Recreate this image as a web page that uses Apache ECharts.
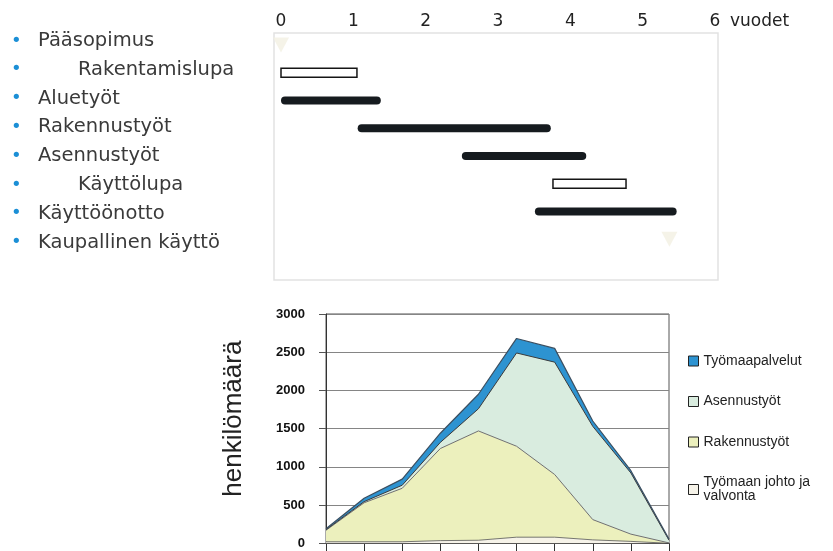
<!DOCTYPE html>
<html>
<head>
<meta charset="utf-8">
<script src="https://cdn.jsdelivr.net/npm/echarts@6/dist/echarts.min.js"></script>
<style>
html,body{margin:0;padding:0;background:#fff;}
#c{width:833px;height:551px;}
</style>
</head>
<body>
<div id="c"></div>
<script>
// ---- Gantt (top) ----
const tasks = ['Pääsopimus','Rakentamislupa','Aluetyöt','Rakennustyöt','Asennustyöt','Käyttölupa','Käyttöönotto','Kaupallinen käyttö'];
const taskIndent = [false,true,false,false,false,true,false,false];
const taskType = ['milestone','permit','work','work','work','permit','work','milestone'];
const taskStart = [0, 0, 0, 1.06, 2.5, 3.76, 3.51, 5.37];
const taskEnd   = [0, 1.05, 1.38, 3.73, 4.22, 4.77, 5.47, 5.37];
const yearTicks = [0,1,2,3,4,5,6];
const yearUnit = 'vuodet';

// ---- Stacked area (bottom) ----
const periods = ['1','2','3','4','5','6','7','8','9','10'];
const johto       = [20, 20, 20, 35, 40, 80, 80, 45, 25, 0];
const rakennus    = [150, 510, 700, 1205, 1430, 1190, 820, 265, 95, 5];
const asennus     = [8, 15, 40, 80, 290, 1220, 1470, 1220, 800, 35];
const tyomaa      = [12, 45, 80, 120, 190, 190, 180, 70, 30, 15];
const yTicks = [0,500,1000,1500,2000,2500,3000];
const yTitle = 'henkilömäärä';
const legendOrder = ['Työmaapalvelut','Asennustyöt','Rakennustyöt','Työmaan johto ja valvonta'];

const workData = [], permitData = [], mileData = [];
tasks.forEach((t,i)=>{
  if (taskType[i]==='work') workData.push([i, taskStart[i], taskEnd[i]]);
  else if (taskType[i]==='permit') permitData.push([i, taskStart[i], taskEnd[i]]);
  else mileData.push([taskStart[i], i]);
});

function barRender(kind){
  return function(params, api){
    const row = api.value(0);
    const p0 = api.coord([api.value(1), row]);
    const p1 = api.coord([api.value(2), row]);
    const h = kind==='permit' ? 9 : 8;
    return {
      type:'rect',
      shape:{x:p0[0], y:p0[1]-h/2, width:p1[0]-p0[0], height:h, r: kind==='permit'?0:4},
      style: kind==='permit' ? {fill:'#ffffff', stroke:'#151515', lineWidth:1.5} : {fill:'#161b1f'}
    };
  };
}

const chart = echarts.init(document.getElementById('c'), null, {renderer:'canvas'});
const verd = 'DejaVu Sans';
const arial = 'Liberation Sans';

chart.setOption({
  animation:false,
  backgroundColor:'#fff',
  grid:[
    {left:281, right:118, top:31, height:222, outerBoundsMode:'none'},
    {left:273, width:10, top:26.5, height:230.4, outerBoundsMode:'none'},
    {left:274, right:115, top:33, bottom:271, show:true, borderColor:'#e2e2e2', borderWidth:1.5, backgroundColor:'transparent', outerBoundsMode:'none'},
    {left:326, right:164, top:314, height:229.3, show:true, borderColor:'#555', borderWidth:1, outerBoundsMode:'none'}
  ],
  legend:{
    data:legendOrder,
    orient:'vertical',
    left:683, top:349,
    itemWidth:10, itemHeight:10, itemGap:26.5,
    icon:'rect',
    itemStyle:{borderColor:'#222', borderWidth:1},
    textStyle:{fontFamily:arial, fontSize:14, lineHeight:14, color:'#222', padding:[0,0,0,0]},
    formatter:function(n){ return n==='Työmaan johto ja valvonta' ? 'Työmaan johto ja\nvalvonta' : n; },
    selectedMode:false
  },
  xAxis:[
    {gridIndex:0, type:'value', min:0, max:6, interval:1, position:'top',
     axisLine:{show:false}, axisTick:{show:false}, splitLine:{show:false},
     axisLabel:{fontFamily:verd, fontSize:17, color:'#222', margin:1,
       formatter:function(v){ return yearTicks.indexOf(v)>=0 ? String(v) : ''; }},
     name:yearUnit, nameLocation:'end', nameGap:15,
     nameTextStyle:{fontFamily:verd, fontSize:17, color:'#222', align:'left', verticalAlign:'bottom', padding:[0,0,1,0]}},
    {gridIndex:1, type:'value', show:false, min:0, max:1},
    {gridIndex:2, type:'value', show:false, min:0, max:1},
    {gridIndex:3, type:'category', data:periods, boundaryGap:false,
     axisLine:{show:true, lineStyle:{color:'#333', width:1}},
     axisTick:{show:true, length:8, lineStyle:{color:'#333'}},
     axisLabel:{show:false}, splitLine:{show:false}}
  ],
  yAxis:[
    {gridIndex:0, type:'category', data:tasks, inverse:true, show:false},
    {gridIndex:1, type:'category', data:tasks, inverse:true,
     axisLine:{show:false}, axisTick:{show:false}, splitLine:{show:false},
     axisLabel:{align:'left', margin:262, interval:0,
       formatter:function(v, i){ return taskIndent[i] ? '{b|•}{ti|'+v+'}' : '{b|•}{t|'+v+'}'; },
       rich:{
         b:{fontFamily:verd, fontSize:18, color:'#1b8fd6', width:27},
         t:{fontFamily:verd, fontSize:19.5, color:'#3a3a3a'},
         ti:{fontFamily:verd, fontSize:19.5, color:'#3a3a3a', padding:[0,0,0,40]}
       }}},
    {gridIndex:2, type:'value', show:false, min:0, max:1},
    {gridIndex:3, type:'value', min:yTicks[0], max:yTicks[yTicks.length-1], interval:500,
     axisLine:{show:true, lineStyle:{color:'#333'}},
     axisTick:{show:true, length:7, lineStyle:{color:'#555'}},
     splitLine:{show:true, lineStyle:{color:'#858585', width:1}},
     axisLabel:{fontFamily:arial, fontSize:13, fontWeight:'bold', color:'#111', margin:21,
       formatter:function(v){ return String(v); }},
     name:yTitle, nameLocation:'middle', nameGap:79,
     nameTextStyle:{fontFamily:arial, fontSize:26, color:'#222', padding:[0,0,0,20]}}
  ],
  series:[
    {type:'custom', name:'work', xAxisIndex:0, yAxisIndex:0, renderItem:barRender('work'),
     encode:{x:[1,2], y:0}, data:workData, clip:false, silent:true},
    {type:'custom', name:'permit', xAxisIndex:0, yAxisIndex:0, renderItem:barRender('permit'),
     encode:{x:[1,2], y:0}, data:permitData, clip:false, silent:true},
    {type:'scatter', name:'milestone', xAxisIndex:0, yAxisIndex:0, data:mileData,
     symbol:'triangle', symbolRotate:180, symbolSize:[16,15], clip:false, silent:true,
     itemStyle:{color:'#f3f0e2'}},
    {type:'line', name:'Työmaan johto ja valvonta', xAxisIndex:3, yAxisIndex:3, stack:'total',
     data:johto, symbol:'none', silent:true,
     lineStyle:{color:'#555', width:0.8}, itemStyle:{color:'#f6f3e9'},
     areaStyle:{color:'#f6f3e9', opacity:1}},
    {type:'line', name:'Rakennustyöt', xAxisIndex:3, yAxisIndex:3, stack:'total',
     data:rakennus, symbol:'none', silent:true,
     lineStyle:{color:'#707070', width:1}, itemStyle:{color:'#ecf0bd'},
     areaStyle:{color:'#ecf0bd', opacity:1}},
    {type:'line', name:'Asennustyöt', xAxisIndex:3, yAxisIndex:3, stack:'total',
     data:asennus, symbol:'none', silent:true,
     lineStyle:{color:'#3a3a3a', width:1}, itemStyle:{color:'#d9ecdf'},
     areaStyle:{color:'#d9ecdf', opacity:1}},
    {type:'line', name:'Työmaapalvelut', xAxisIndex:3, yAxisIndex:3, stack:'total',
     data:tyomaa, symbol:'none', silent:true,
     lineStyle:{color:'#3c4f60', width:1.2}, itemStyle:{color:'#2d93d1'},
     areaStyle:{color:'#2d93d1', opacity:1}}
  ]
});
</script>
</body>
</html>
